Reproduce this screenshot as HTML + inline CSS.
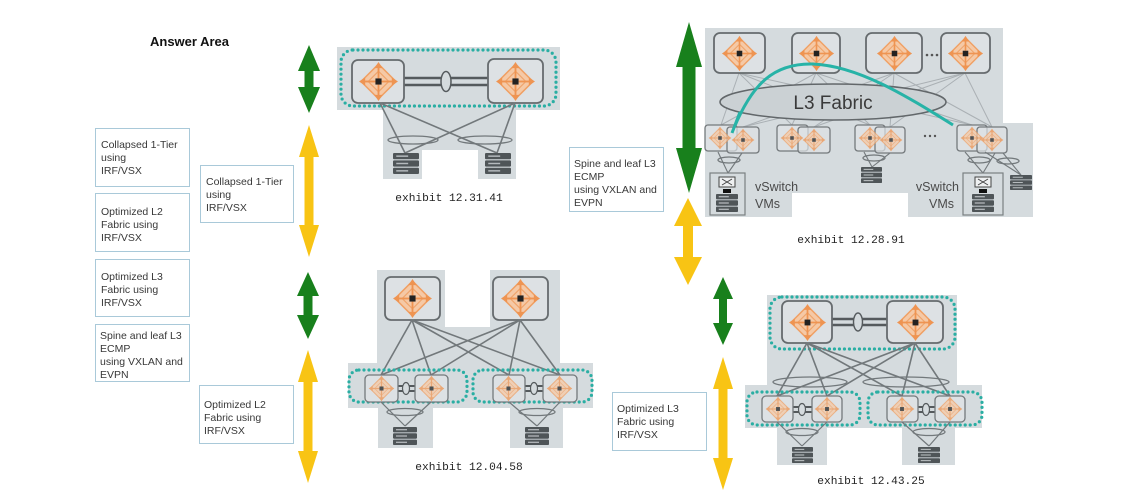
<!DOCTYPE html>
<html><head><meta charset="utf-8"><style>
html,body{margin:0;padding:0;background:#fff;}
svg{display:block;}
text{font-family:"Liberation Sans",Arial,sans-serif;}
.bx{fill:#fff;stroke:#a9c9d9;stroke-width:1;}
.bt{font-size:10.5px;fill:#383838;}
.ex{font-family:"Liberation Mono",monospace;font-size:11.2px;fill:#222;}
.g{fill:#d5dbde;}
.rt{fill:#dde1e4;stroke:#666b6e;stroke-width:1.8;}
.lf{fill:#dde1e4;stroke:#74797c;stroke-width:1.3;}
.dot{fill:none;stroke:#2aaea3;stroke-width:3.2;stroke-dasharray:0 5;stroke-linecap:round;}
.ln{stroke:#72787b;stroke-width:1.6;fill:none;}
.ml{stroke:#aab0b4;stroke-width:1;fill:none;}
.ov{fill:none;stroke:#72787b;stroke-width:1.3;}
.dl{stroke:#555a5d;stroke-width:2.6;}
</style></head><body>
<svg width="1137" height="498" viewBox="0 0 1137 498" xmlns="http://www.w3.org/2000/svg">
<defs>
<symbol id="r" viewBox="-20 -20 40 40">
<polygon points="0,-17 17,0 0,17 -17,0" fill="#f5c9a6" stroke="#f0a064" stroke-width="1.5"/>
<polygon points="0,-10 10,0 0,10 -10,0" fill="none" stroke="#f0a56c" stroke-width="1.2"/>
<g stroke="#ee9452" stroke-width="1.8">
<line x1="0" y1="-3" x2="0" y2="-15"/><line x1="0" y1="3" x2="0" y2="15"/>
<line x1="-3" y1="0" x2="-15" y2="0"/><line x1="3" y1="0" x2="15" y2="0"/>
</g>
<g fill="#ee9452">
<polygon points="0,-19 -4,-13 4,-13"/><polygon points="0,19 -4,13 4,13"/>
<polygon points="-19,0 -13,-4 -13,4"/><polygon points="19,0 13,-4 13,4"/>
</g>
<rect x="-3" y="-3" width="6" height="6" fill="#222"/>
</symbol>
<symbol id="s" viewBox="0 0 24 20" preserveAspectRatio="none">
<rect x="0" y="0" width="24" height="6" rx="1" fill="#4f5558"/>
<rect x="0" y="7" width="24" height="6" rx="1" fill="#4f5558"/>
<rect x="0" y="14" width="24" height="6" rx="1" fill="#4f5558"/>
<rect x="3" y="2.3" width="11" height="1.4" fill="#b5babd"/>
<rect x="3" y="9.3" width="11" height="1.4" fill="#b5babd"/>
<rect x="3" y="16.3" width="11" height="1.4" fill="#b5babd"/>
</symbol>
</defs>

<!-- Answer Area -->
<text x="150" y="46" font-size="13" font-weight="bold" fill="#111">Answer Area</text>

<!-- left boxes -->
<rect class="bx" x="95.5" y="128.5" width="94" height="58"/>
<text class="bt"><tspan x="101" y="148">Collapsed 1-Tier</tspan><tspan x="101" y="161">using</tspan><tspan x="101" y="174">IRF/VSX</tspan></text>
<rect class="bx" x="95.5" y="193.5" width="94" height="58"/>
<text class="bt"><tspan x="101" y="215">Optimized L2</tspan><tspan x="101" y="228">Fabric using</tspan><tspan x="101" y="241">IRF/VSX</tspan></text>
<rect class="bx" x="95.5" y="259.5" width="94" height="57"/>
<text class="bt"><tspan x="101" y="280">Optimized L3</tspan><tspan x="101" y="293">Fabric using</tspan><tspan x="101" y="306">IRF/VSX</tspan></text>
<rect class="bx" x="95.5" y="324.5" width="94" height="57"/>
<text class="bt"><tspan x="100" y="339">Spine and leaf L3</tspan><tspan x="100" y="352">ECMP</tspan><tspan x="100" y="365">using VXLAN and</tspan><tspan x="100" y="378">EVPN</tspan></text>

<rect class="bx" x="200.5" y="165.5" width="93" height="57"/>
<text class="bt"><tspan x="206" y="185">Collapsed 1-Tier</tspan><tspan x="206" y="198">using</tspan><tspan x="206" y="211">IRF/VSX</tspan></text>
<rect class="bx" x="199.5" y="385.5" width="94" height="58"/>
<text class="bt"><tspan x="204" y="408">Optimized L2</tspan><tspan x="204" y="421">Fabric using</tspan><tspan x="204" y="434">IRF/VSX</tspan></text>
<rect class="bx" x="569.5" y="147.5" width="94" height="64"/>
<text class="bt"><tspan x="574" y="167">Spine and leaf L3</tspan><tspan x="574" y="180">ECMP</tspan><tspan x="574" y="193">using VXLAN and</tspan><tspan x="574" y="206">EVPN</tspan></text>
<rect class="bx" x="612.5" y="392.5" width="94" height="58"/>
<text class="bt"><tspan x="617" y="412">Optimized L3</tspan><tspan x="617" y="425">Fabric using</tspan><tspan x="617" y="438">IRF/VSX</tspan></text>

<!-- arrows -->
<g fill="#18801c">
<polygon points="309,45 320,71 313.5,71 313.5,87 320,87 309,113 298,87 304.5,87 304.5,71 298,71"/>
<polygon points="308,272 319,296 312.5,296 312.5,315 319,315 308,339 297,315 303.5,315 303.5,296 297,296"/>
<polygon points="689,22 702,67 695.5,67 695.5,148 702,148 689,193 676,148 682.5,148 682.5,67 676,67"/>
<polygon points="723,277 733,299 727,299 727,323 733,323 723,345 713,323 719,323 719,299 713,299"/>
</g>
<g fill="#f8c414">
<polygon points="309,125 319,157 313.5,157 313.5,225 319,225 309,257 299,225 304.5,225 304.5,157 299,157"/>
<polygon points="308,350 318,382 312.5,382 312.5,451 318,451 308,483 298,451 303.5,451 303.5,382 298,382"/>
<polygon points="688,198 702,226 693,226 693,257 702,257 688,285 674,257 683,257 683,226 674,226"/>
<polygon points="723,357 733,389 727.5,389 727.5,458 733,458 723,490 713,458 718.5,458 718.5,389 713,389"/>
</g>

<!-- Diagram 1: exhibit 12.31.41 -->
<rect class="g" x="337" y="47" width="223" height="63"/>
<rect class="g" x="383" y="110" width="133" height="40"/>
<rect class="g" x="383" y="150" width="39" height="29"/>
<rect class="g" x="478" y="150" width="38" height="29"/>
<rect class="dot" x="341" y="50" width="215" height="56" rx="12"/>
<line class="dl" x1="404" y1="78" x2="488" y2="78"/>
<line class="dl" x1="404" y1="85" x2="488" y2="85"/>
<ellipse cx="446" cy="81.5" rx="5" ry="10" fill="#d5dbde" stroke="#555a5d" stroke-width="1.5"/>
<rect class="rt" x="352" y="60" width="52" height="43" rx="6"/>
<rect class="rt" x="488" y="59" width="55" height="44" rx="6"/>
<use href="#r" x="358" y="61" width="41" height="41"/>
<use href="#r" x="495" y="61" width="41" height="41"/>
<line class="ln" x1="380" y1="103" x2="405" y2="153"/>
<line class="ln" x1="380" y1="103" x2="497" y2="153"/>
<line class="ln" x1="515" y1="103" x2="497" y2="153"/>
<line class="ln" x1="515" y1="103" x2="405" y2="153"/>
<ellipse class="ov" cx="413" cy="140" rx="25" ry="4"/>
<ellipse class="ov" cx="485" cy="140" rx="27" ry="4"/>
<use href="#s" x="393" y="153" width="26" height="21"/>
<use href="#s" x="485" y="153" width="26" height="21"/>
<text class="ex" x="449" y="201" text-anchor="middle">exhibit 12.31.41</text>

<!-- Diagram 2: exhibit 12.04.58 -->
<rect class="g" x="377" y="270" width="68" height="58"/>
<rect class="g" x="490" y="270" width="70" height="58"/>
<rect class="g" x="377" y="327" width="183" height="37"/>
<rect class="g" x="348" y="363" width="245" height="45"/>
<rect class="g" x="378" y="407" width="55" height="41"/>
<rect class="g" x="510" y="407" width="53" height="41"/>
<rect class="rt" x="385" y="277" width="55" height="43" rx="6"/>
<rect class="rt" x="493" y="277" width="55" height="43" rx="6"/>
<use href="#r" x="392" y="278" width="41" height="41"/>
<use href="#r" x="500" y="278" width="41" height="41"/>
<g class="ln">
<line x1="412" y1="320" x2="381" y2="375"/><line x1="412" y1="320" x2="431" y2="375"/>
<line x1="412" y1="320" x2="509" y2="375"/><line x1="412" y1="320" x2="560" y2="375"/>
<line x1="520" y1="320" x2="381" y2="375"/><line x1="520" y1="320" x2="431" y2="375"/>
<line x1="520" y1="320" x2="509" y2="375"/><line x1="520" y1="320" x2="560" y2="375"/>
</g>
<rect class="dot" x="349" y="370" width="118" height="32" rx="10"/>
<rect class="dot" x="473" y="370" width="119" height="32" rx="10"/>
<line class="dl" x1="398" y1="386" x2="415" y2="386" style="stroke-width:2"/>
<line class="dl" x1="398" y1="391" x2="415" y2="391" style="stroke-width:2"/>
<ellipse cx="406" cy="388.5" rx="3.5" ry="6" fill="#d5dbde" stroke="#555a5d" stroke-width="1.2"/>
<line class="dl" x1="525" y1="386" x2="543" y2="386" style="stroke-width:2"/>
<line class="dl" x1="525" y1="391" x2="543" y2="391" style="stroke-width:2"/>
<ellipse cx="534" cy="388.5" rx="3.5" ry="6" fill="#d5dbde" stroke="#555a5d" stroke-width="1.2"/>
<rect class="lf" x="365" y="375" width="33" height="27" rx="4"/>
<rect class="lf" x="415" y="375" width="33" height="27" rx="4"/>
<rect class="lf" x="493" y="375" width="32" height="27" rx="4"/>
<rect class="lf" x="543" y="375" width="34" height="27" rx="4"/>
<use href="#r" x="368" y="375" width="27" height="27" opacity="0.75"/>
<use href="#r" x="418" y="375" width="27" height="27" opacity="0.75"/>
<use href="#r" x="495" y="375" width="27" height="27" opacity="0.75"/>
<use href="#r" x="546" y="375" width="27" height="27" opacity="0.75"/>
<g class="ln" style="stroke-width:1.2">
<line x1="381" y1="402" x2="405" y2="426"/><line x1="431" y1="402" x2="405" y2="426"/>
<line x1="509" y1="402" x2="537" y2="426"/><line x1="560" y1="402" x2="537" y2="426"/>
</g>
<ellipse class="ov" cx="405" cy="412" rx="18" ry="3.5"/>
<ellipse class="ov" cx="537" cy="412" rx="18" ry="3.5"/>
<use href="#s" x="393" y="427" width="24" height="18"/>
<use href="#s" x="525" y="427" width="24" height="18"/>
<text class="ex" x="469" y="470" text-anchor="middle">exhibit 12.04.58</text>

<!-- Diagram 3: exhibit 12.28.91 -->
<rect class="g" x="705" y="28" width="298" height="165"/>
<rect class="g" x="705" y="192" width="87" height="25"/>
<rect class="g" x="908" y="192" width="95" height="25"/>
<rect class="g" x="1002" y="123" width="31" height="94"/>
<g class="ml">
<line x1="739" y1="73" x2="721" y2="125"/><line x1="739" y1="73" x2="792" y2="125"/><line x1="739" y1="73" x2="870" y2="125"/><line x1="739" y1="73" x2="972" y2="125"/>
<line x1="816" y1="73" x2="721" y2="125"/><line x1="816" y1="73" x2="792" y2="125"/><line x1="816" y1="73" x2="870" y2="125"/><line x1="816" y1="73" x2="972" y2="125"/>
<line x1="894" y1="73" x2="743" y2="127"/><line x1="894" y1="73" x2="814" y2="127"/><line x1="894" y1="73" x2="890" y2="127"/><line x1="894" y1="73" x2="992" y2="127"/>
<line x1="965" y1="73" x2="743" y2="127"/><line x1="965" y1="73" x2="814" y2="127"/><line x1="965" y1="73" x2="890" y2="127"/><line x1="965" y1="73" x2="992" y2="127"/>
</g>
<rect class="rt" x="714" y="33" width="51" height="40" rx="6"/>
<rect class="rt" x="792" y="33" width="48" height="40" rx="6"/>
<rect class="rt" x="866" y="33" width="56" height="40" rx="6"/>
<rect class="rt" x="941" y="33" width="49" height="40" rx="6"/>
<use href="#r" x="721" y="35" width="37" height="37"/>
<use href="#r" x="798" y="35" width="37" height="37"/>
<use href="#r" x="876" y="35" width="37" height="37"/>
<use href="#r" x="947" y="35" width="37" height="37"/>
<g fill="#555"><circle cx="927" cy="55" r="1.3"/><circle cx="932" cy="55" r="1.3"/><circle cx="937" cy="55" r="1.3"/></g>
<ellipse cx="833" cy="102" rx="113" ry="18" fill="#cbd1d4" stroke="#62676a" stroke-width="1.5"/>
<text x="833" y="109" font-size="19" fill="#3a3a3a" text-anchor="middle">L3 Fabric</text>
<path d="M732,133 C752,82 775,63 813,64 C858,66 905,95 953,125" fill="none" stroke="#27b3a7" stroke-width="3"/>
<rect class="lf" x="705" y="125" width="32" height="26" rx="3"/>
<rect class="lf" x="727" y="127" width="32" height="26" rx="3" fill-opacity="0.7"/>
<rect class="lf" x="777" y="125" width="31" height="26" rx="3"/>
<rect class="lf" x="798" y="127" width="32" height="26" rx="3" fill-opacity="0.7"/>
<rect class="lf" x="855" y="125" width="30" height="26" rx="3"/>
<rect class="lf" x="875" y="127" width="30" height="26" rx="3" fill-opacity="0.7"/>
<rect class="lf" x="957" y="125" width="30" height="26" rx="3"/>
<rect class="lf" x="977" y="127" width="30" height="26" rx="3" fill-opacity="0.7"/>
<use href="#r" x="708" y="126" width="24" height="24" opacity="0.75"/>
<use href="#r" x="731" y="128" width="24" height="24" opacity="0.75"/>
<use href="#r" x="780" y="126" width="24" height="24" opacity="0.75"/>
<use href="#r" x="802" y="128" width="24" height="24" opacity="0.75"/>
<use href="#r" x="858" y="126" width="24" height="24" opacity="0.75"/>
<use href="#r" x="879" y="128" width="24" height="24" opacity="0.75"/>
<use href="#r" x="960" y="126" width="24" height="24" opacity="0.75"/>
<use href="#r" x="980" y="128" width="24" height="24" opacity="0.75"/>
<line x1="732" y1="133" x2="740" y2="112" stroke="#27b3a7" stroke-width="3"/>
<g fill="#555"><circle cx="925" cy="136" r="1.2"/><circle cx="930" cy="136" r="1.2"/><circle cx="935" cy="136" r="1.2"/></g>
<g class="ln" style="stroke-width:1.1">
<line x1="718" y1="152" x2="728" y2="173"/><line x1="742" y1="153" x2="728" y2="173"/>
<line x1="864" y1="152" x2="872" y2="167"/><line x1="890" y1="153" x2="872" y2="167"/>
<line x1="965" y1="152" x2="983" y2="173"/><line x1="995" y1="153" x2="983" y2="173"/>
<line x1="985" y1="152" x2="1021" y2="175"/><line x1="1003" y1="153" x2="1021" y2="175"/>
</g>
<ellipse class="ov" cx="729" cy="160" rx="11" ry="3"/>
<ellipse class="ov" cx="874" cy="158" rx="11" ry="3"/>
<ellipse class="ov" cx="979" cy="160" rx="11" ry="3"/>
<ellipse class="ov" cx="1008" cy="161" rx="11" ry="3"/>
<rect x="710" y="173" width="35" height="42" fill="none" stroke="#7a7f82" stroke-width="1.2"/>
<rect x="719" y="177" width="16" height="10" fill="#eef0f1" stroke="#444" stroke-width="1"/>
<path d="M722,179 L732,185 M732,179 L722,185" stroke="#444" stroke-width="1"/>
<rect x="723" y="189" width="8" height="4" fill="#111"/>
<use href="#s" x="716" y="194" width="22" height="18"/>
<text x="755" y="191" font-size="12.5" fill="#4a4a4a">vSwitch</text>
<text x="755" y="208" font-size="12.5" fill="#4a4a4a">VMs</text>
<use href="#s" x="861" y="167" width="21" height="16"/>
<rect x="963" y="173" width="40" height="42" fill="none" stroke="#7a7f82" stroke-width="1.2"/>
<rect x="975" y="177" width="16" height="10" fill="#eef0f1" stroke="#444" stroke-width="1"/>
<path d="M978,179 L988,185 M988,179 L978,185" stroke="#444" stroke-width="1"/>
<rect x="979" y="189" width="8" height="4" fill="#111"/>
<use href="#s" x="972" y="194" width="22" height="18"/>
<text x="959" y="191" font-size="12.5" fill="#4a4a4a" text-anchor="end">vSwitch</text>
<text x="954" y="208" font-size="12.5" fill="#4a4a4a" text-anchor="end">VMs</text>
<use href="#s" x="1010" y="175" width="22" height="15"/>
<text class="ex" x="851" y="243" text-anchor="middle">exhibit 12.28.91</text>

<!-- Diagram 4: exhibit 12.43.25 -->
<rect class="g" x="767" y="295" width="190" height="91"/>
<rect class="g" x="745" y="385" width="237" height="43"/>
<rect class="g" x="777" y="427" width="50" height="38"/>
<rect class="g" x="902" y="427" width="53" height="38"/>
<rect class="dot" x="770" y="297" width="185" height="52" rx="12"/>
<line class="dl" x1="832" y1="319" x2="887" y2="319"/>
<line class="dl" x1="832" y1="325" x2="887" y2="325"/>
<ellipse cx="858" cy="322" rx="4.5" ry="9" fill="#d5dbde" stroke="#555a5d" stroke-width="1.4"/>
<rect class="rt" x="782" y="301" width="50" height="42" rx="6"/>
<rect class="rt" x="887" y="301" width="56" height="42" rx="6"/>
<use href="#r" x="788" y="303" width="39" height="39"/>
<use href="#r" x="896" y="303" width="39" height="39"/>
<g class="ln">
<line x1="807" y1="343" x2="777" y2="396"/><line x1="807" y1="343" x2="827" y2="396"/>
<line x1="807" y1="343" x2="902" y2="396"/><line x1="807" y1="343" x2="950" y2="396"/>
<line x1="915" y1="343" x2="777" y2="396"/><line x1="915" y1="343" x2="827" y2="396"/>
<line x1="915" y1="343" x2="902" y2="396"/><line x1="915" y1="343" x2="950" y2="396"/>
</g>
<ellipse class="ov" cx="810" cy="382" rx="37" ry="5"/>
<ellipse class="ov" cx="906" cy="382" rx="43" ry="5"/>
<rect class="dot" x="747" y="392" width="113" height="33" rx="10"/>
<rect class="dot" x="868" y="392" width="114" height="33" rx="10"/>
<line class="dl" x1="793" y1="407" x2="812" y2="407" style="stroke-width:2"/>
<line class="dl" x1="793" y1="412" x2="812" y2="412" style="stroke-width:2"/>
<ellipse cx="802" cy="409.5" rx="3.5" ry="6" fill="#d5dbde" stroke="#555a5d" stroke-width="1.2"/>
<line class="dl" x1="918" y1="407" x2="935" y2="407" style="stroke-width:2"/>
<line class="dl" x1="918" y1="412" x2="935" y2="412" style="stroke-width:2"/>
<ellipse cx="926" cy="409.5" rx="3.5" ry="6" fill="#d5dbde" stroke="#555a5d" stroke-width="1.2"/>
<rect class="lf" x="762" y="396" width="31" height="26" rx="4"/>
<rect class="lf" x="812" y="396" width="30" height="26" rx="4"/>
<rect class="lf" x="887" y="396" width="31" height="26" rx="4"/>
<rect class="lf" x="935" y="396" width="30" height="26" rx="4"/>
<use href="#r" x="765" y="396" width="26" height="26" opacity="0.75"/>
<use href="#r" x="814" y="396" width="26" height="26" opacity="0.75"/>
<use href="#r" x="889" y="396" width="26" height="26" opacity="0.75"/>
<use href="#r" x="937" y="396" width="26" height="26" opacity="0.75"/>
<g class="ln" style="stroke-width:1.2">
<line x1="777" y1="422" x2="802" y2="446"/><line x1="827" y1="422" x2="802" y2="446"/>
<line x1="902" y1="422" x2="929" y2="446"/><line x1="950" y1="422" x2="929" y2="446"/>
</g>
<ellipse class="ov" cx="802" cy="432" rx="16" ry="3.5"/>
<ellipse class="ov" cx="929" cy="432" rx="16" ry="3.5"/>
<use href="#s" x="792" y="447" width="21" height="16"/>
<use href="#s" x="918" y="447" width="22" height="16"/>
<text class="ex" x="871" y="484" text-anchor="middle">exhibit 12.43.25</text>
</svg>
</body></html>
